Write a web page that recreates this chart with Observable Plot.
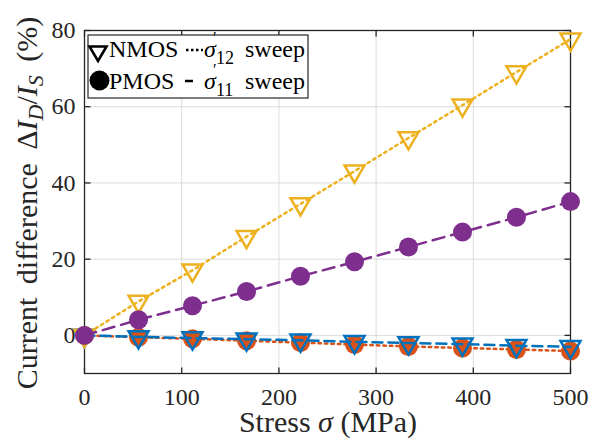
<!DOCTYPE html>
<html><head><meta charset="utf-8">
<script src="https://cdn.jsdelivr.net/npm/d3@7"></script>
<script src="https://cdn.jsdelivr.net/npm/@observablehq/plot@0.6"></script>
<style>
body{margin:0;background:#fff;}
#chart{position:relative;width:602px;height:448px;}
</style>
</head><body>
<div id="chart"></div>
<script>
// ---- data ----
const stress = [0, 55.6, 111.1, 166.7, 222.2, 277.8, 333.3, 388.9, 444.4, 500];
const nmosSigma11 = [0, -0.4, -0.7, -1.0, -1.3, -1.7, -2.0, -2.3, -2.7, -3.0];   // blue, dashed, open triangles
const pmosSigma12 = [0, -0.5, -0.9, -1.4, -1.9, -2.4, -2.9, -3.3, -3.7, -4.1];   // orange, dotted, filled circles
const nmosSigma12 = [0, 8.9, 17.1, 25.9, 34.5, 43.1, 51.8, 60.4, 69.1, 77.7];   // yellow, dotted, open triangles
const pmosSigma11 = [0, 4.1, 7.8, 11.5, 15.5, 19.3, 23.2, 27.1, 31.0, 35.1];     // purple, dashed, filled circles
const xTicks = [0, 100, 200, 300, 400, 500];
const yTicks = [0, 20, 40, 60, 80];

const colBlue = "#0072BD", colOrange = "#D95319", colYellow = "#EDB120", colPurple = "#7E2F8E";
const ink = "#262626";
const serif = "Liberation Serif";

const rows = (ys) => stress.map((x, i) => ({x, y: ys[i]}));
const dBlue = rows(nmosSigma11), dOrange = rows(pmosSigma12), dYellow = rows(nmosSigma12), dPurple = rows(pmosSigma11);

// custom symbols
const triDown = {draw(ctx, size) {
  const y = Math.sqrt(size / (Math.sqrt(3) * 3));
  ctx.moveTo(0, 2 * y); ctx.lineTo(Math.sqrt(3) * y, -y); ctx.lineTo(-Math.sqrt(3) * y, -y); ctx.closePath();
}};
const TL = 6;
const tickUp = {draw(ctx){ ctx.moveTo(0,0); ctx.lineTo(0,-TL); }};
const tickDown = {draw(ctx){ ctx.moveTo(0,0); ctx.lineTo(0,TL); }};
const tickRight = {draw(ctx){ ctx.moveTo(0,0); ctx.lineTo(TL,0); }};
const tickLeft = {draw(ctx){ ctx.moveTo(0,0); ctx.lineTo(-TL,0); }};

function render() {
  const host = document.getElementById("chart");
  host.innerHTML = "";
  const sw = 2.5;
  const plot = Plot.plot({
    width: 602, height: 448,
    marginLeft: 84, marginRight: 32, marginTop: 30, marginBottom: 75,
    style: {fontFamily: serif, fontSize: "24px", color: ink, background: "#fff", overflow: "visible"},
    x: {domain: [0, 500]},
    y: {domain: [-10, 80]},
    marks: [
      Plot.gridX(xTicks, {stroke: "#dcdcdc", strokeOpacity: 1, strokeWidth: 1}),
      Plot.gridY(yTicks, {stroke: "#dcdcdc", strokeOpacity: 1, strokeWidth: 1}),
      Plot.axisX(xTicks, {tickSize: 0, tickPadding: 14, label: null, fill: ink, fontSize: 24, fontFamily: serif}),
      Plot.axisY(yTicks, {tickSize: 0, tickPadding: 9, label: null, fill: ink, fontSize: 24, fontFamily: serif}),
      Plot.frame({stroke: ink, strokeWidth: 1.3}),
      Plot.dot(xTicks, {x: d => d, frameAnchor: "bottom", symbol: tickUp, stroke: ink, strokeWidth: 1.3, r: 1}),
      Plot.dot(xTicks, {x: d => d, frameAnchor: "top", symbol: tickDown, stroke: ink, strokeWidth: 1.3, r: 1}),
      Plot.dot(yTicks, {y: d => d, frameAnchor: "left", symbol: tickRight, stroke: ink, strokeWidth: 1.3, r: 1}),
      Plot.dot(yTicks, {y: d => d, frameAnchor: "right", symbol: tickLeft, stroke: ink, strokeWidth: 1.3, r: 1}),
      // PMOS sigma12 (orange)
      Plot.line(dOrange, {x: "x", y: "y", stroke: colOrange, strokeWidth: sw, strokeDasharray: "2.5,4"}),
      Plot.dot(dOrange, {x: "x", y: "y", fill: colOrange, r: 9.5}),
      // NMOS sigma11 (blue)
      Plot.line(dBlue, {x: "x", y: "y", stroke: colBlue, strokeWidth: sw, strokeDasharray: "10,6"}),
      Plot.dot(dBlue, {x: "x", y: "y", symbol: triDown, fill: "none", stroke: colBlue, strokeWidth: sw, r: 7.4}),
      // NMOS sigma12 (yellow)
      Plot.line(dYellow, {x: "x", y: "y", stroke: colYellow, strokeWidth: sw, strokeDasharray: "2.5,4"}),
      Plot.dot(dYellow, {x: "x", y: "y", symbol: triDown, fill: "none", stroke: colYellow, strokeWidth: sw, r: 7.4}),
      // PMOS sigma11 (purple)
      Plot.line(dPurple, {x: "x", y: "y", stroke: colPurple, strokeWidth: sw, strokeDasharray: "12,7"}),
      Plot.dot(dPurple, {x: "x", y: "y", fill: colPurple, r: 9.5})
    ]
  });
  host.appendChild(plot);

  const svg = d3.select(plot);

  // x label
  svg.append("text").attr("x", 328).attr("y", 432).attr("text-anchor", "middle")
    .attr("font-family", serif).attr("font-size", 30).attr("fill", ink)
    .call(t => {
      t.append("tspan").text("Stress ");
      t.append("tspan").attr("font-style", "italic").text("σ");
      t.append("tspan").text(" (MPa)");
    });

  // y label
  svg.append("text").attr("transform", "translate(37,203) rotate(-90)").attr("text-anchor", "middle")
    .attr("font-family", serif).attr("font-size", 30).attr("fill", ink)
    .attr("word-spacing", 6)
    .call(t => {
      t.append("tspan").text("Current difference Δ");
      t.append("tspan").attr("font-style", "italic").text("I");
      t.append("tspan").attr("font-style", "italic").attr("font-size", 22).attr("dy", 6).text("D");
      t.append("tspan").attr("dy", -6).text("/");
      t.append("tspan").attr("font-style", "italic").text("I");
      t.append("tspan").attr("font-style", "italic").attr("font-size", 22).attr("dy", 6).text("S");
      t.append("tspan").attr("dy", -6).text(" (%)");
    });

  // legend
  const lg = svg.append("g").attr("font-family", serif).attr("fill", "#000").attr("text-anchor", "start");
  lg.append("rect").attr("x", 88).attr("y", 35).attr("width", 220).attr("height", 63)
    .attr("fill", "#fff").attr("stroke", ink).attr("stroke-width", 1.2);
  lg.append("path").attr("d", "M89.5,46.5 L106.5,46.5 L98,61 Z").attr("fill", "none").attr("stroke", "#000").attr("stroke-width", 2.6);
  lg.append("circle").attr("cx", 99.5).attr("cy", 80.5).attr("r", 10).attr("fill", "#000");
  lg.append("text").attr("x", 109).attr("y", 57).attr("font-size", 24).text("NMOS");
  lg.append("text").attr("x", 109).attr("y", 89).attr("font-size", 24).text("PMOS");
  lg.append("line").attr("x1", 186).attr("x2", 203).attr("y1", 50).attr("y2", 50).attr("stroke", "#000").attr("stroke-width", 2.5).attr("stroke-dasharray", "2.5,2.5");
  lg.append("line").attr("x1", 185).attr("x2", 193).attr("y1", 81).attr("y2", 81).attr("stroke", "#000").attr("stroke-width", 2.5);
  [[57, "12"], [89, "11"]].forEach(([by, sub]) => {
    lg.append("text").attr("x", 204).attr("y", by).attr("font-size", 24).attr("font-style", "italic").text("σ");
    lg.append("text").attr("x", 213).attr("y", by - 14).attr("font-size", 16).text("′");
    lg.append("text").attr("x", 216).attr("y", by + 7).attr("font-size", 18).text(sub);
    lg.append("text").attr("x", 245).attr("y", by).attr("font-size", 24).text("sweep");
  });
}
render();
if (document.fonts && document.fonts.ready) document.fonts.ready.then(render).catch(() => {});
</script>
</body></html>
